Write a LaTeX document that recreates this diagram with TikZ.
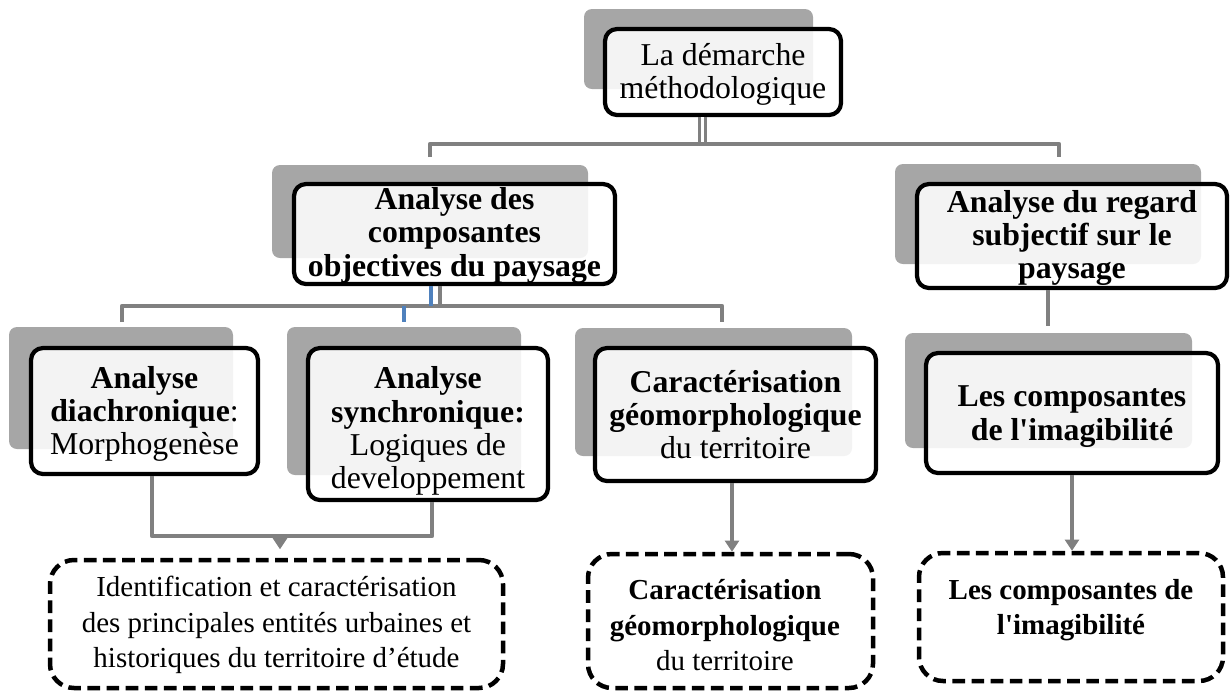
\documentclass[tikz,border=0pt]{standalone}
\usepackage{fontspec}
\setmainfont{Liberation Serif}[Ligatures=TeXOff]
\usetikzlibrary{arrows.meta,fit}

\definecolor{shadowgray}{RGB}{166,166,166}
\definecolor{linkgray}{RGB}{128,128,128}
\definecolor{linkblue}{RGB}{79,129,189}

\newcommand{\boxfont}{\fontsize{22.6}{23.6}\selectfont}
\newcommand{\resultfont}{\fontsize{20.6}{25.3}\selectfont}

\begin{document}
\begin{tikzpicture}[
        x = 0.025cm, y = -0.025cm,
        line join=round,
        shadowbox/.style = {fill=shadowgray, rounded corners=0.2cm},
        mainbox/.style = {draw=black, line width=3pt, fill=white, fill opacity=0.87,
                          rounded corners=0.3cm, inner sep=0pt},
        resultbox/.style = {draw=black, line width=3.2pt, dash pattern=on 9pt off 4.6pt,
                            rounded corners=0.6cm, inner sep=0pt},
        boxtext/.style = {align=center, inner sep=0pt, font=\boxfont},
        resulttext/.style = {align=center, inner sep=0pt, font=\resultfont},
        link/.style = {draw=linkgray, line width=3pt},
        bluelink/.style = {draw=linkblue, line width=3pt},
        doublelink/.style = {draw=linkgray, line width=2.1pt, double=white, double distance=2.8pt},
        arrowlink/.style = {link, -{Triangle[width=10pt, length=8pt]}}
    ]

    \useasboundingbox (0,0) rectangle (1232,693);

    % grey blocks behind the boxes
    \fill[shadowbox] (584,9) rectangle (813,89);
    \fill[shadowbox] (272,165) rectangle (588,258);
    \fill[shadowbox] (895,164) rectangle (1201,264);
    \fill[shadowbox] (9,327) rectangle (233,449);
    \fill[shadowbox] (287,327) rectangle (521,475);
    \fill[shadowbox] (575,328) rectangle (852,456);
    \fill[shadowbox] (905,333) rectangle (1192,448);

    % boxes
    \node[mainbox, fit={(605,29) (841,115)}] (demarche) {};
    \node[mainbox, fit={(294,184) (615,284)}] (objectif) {};
    \node[mainbox, fit={(917,184) (1227,288)}] (regard) {};
    \node[mainbox, fit={(31,348) (258,474)}] (diachro) {};
    \node[mainbox, fit={(308,348) (548,500)}] (synchro) {};
    \node[mainbox, fit={(595,348) (876,481)}] (geomorph) {};
    \node[mainbox, fit={(926,353) (1218,473)}] (imag) {};
    \node[resultbox, fit={(50,560) (503,688)}] (ident) {};
    \node[resultbox, fit={(588,554) (873,688)}] (geores) {};
    \node[resultbox, fit={(919,553) (1223,681)}] (imagres) {};

    % texts
    \node[boxtext] (demarchetxt) at ([yshift=-1.8pt]demarche.center) {La démarche\\méthodologique};
    \node[boxtext] (objectiftxt) at ([yshift=-1pt]objectif.center)
        {\textbf{Analyse des}\\\textbf{composantes}\\\textbf{objectives du paysage}};
    \node[boxtext] (regardtxt) at ([yshift=-1.5pt]regard.center)
        {\textbf{Analyse du regard}\\\textbf{subjectif sur le}\\\textbf{paysage}};
    \node[boxtext] (diachrotxt) at ([yshift=-2pt]diachro.center)
        {\textbf{Analyse}\\\textbf{diachronique}:\\Morphogenèse};
    \node[boxtext] (synchrotxt) at ([yshift=-5pt]synchro.center)
        {\textbf{Analyse}\\\textbf{synchronique:}\\Logiques de\\developpement};
    \node[boxtext] (geomorphtxt) at (geomorph.center)
        {\textbf{Caractérisation}\\\textbf{géomorphologique}\\du territoire};
    \node[boxtext] (imagtxt) at ([yshift=-2.5pt]imag.center)
        {\textbf{Les composantes}\\\textbf{de l'imagibilité}};
    \node[resulttext] (identtxt) at ([yshift=-0.7pt]ident.center)
        {Identification et caractérisation\\des principales entités urbaines et\\historiques du territoire d’étude};
    \node[resulttext] (georestxt) at ([xshift=-4pt, yshift=-3pt]geores.center)
        {\textbf{Caractérisation}\\\textbf{géomorphologique}\\du territoire};
    \node[resulttext] (imagrestxt) at ([yshift=5pt]imagres.center)
        {\textbf{Les composantes de}\\\textbf{l'imagibilité}};

    % junction points and free ends
    \coordinate (topjoin) at (702.5,144);
    \coordinate (leftdrop) at (430,157);
    \coordinate (rightdrop) at (1059,157);
    \coordinate (objjoin) at (440,306);
    \coordinate (dropA) at (122,322);
    \coordinate (dropC) at (722,322);
    \coordinate (dropD) at (1048,326);
    \coordinate (histjoin) at (280,536);

    \draw[doublelink] (demarche.south -| topjoin) -- (topjoin);
    \draw[link] (leftdrop) |- (topjoin) -| (rightdrop);

    \draw[link] (objectif.south -| objjoin) -- (objjoin);
    \draw[link] (dropA) |- (objjoin) -| (dropC);
    \draw[bluelink] (objectif.south -| 431,0) -- (431,306);
    \draw[bluelink] (404,306) -- (404,322);

    \draw[link] (regard.south -| dropD) -- (dropD);

    \draw[link] (diachro.south -| 152,0) |- (histjoin) -| (synchro.south -| 432,0);
    \draw[arrowlink, shorten >=6pt] (histjoin) -- (histjoin |- ident.north);
    \draw[arrowlink] (geomorph.south -| 732,0) -- (geores.north -| 732,0);
    \draw[arrowlink] (imag.south) -- (imag.south |- imagres.north);

\end{tikzpicture}
\end{document}
